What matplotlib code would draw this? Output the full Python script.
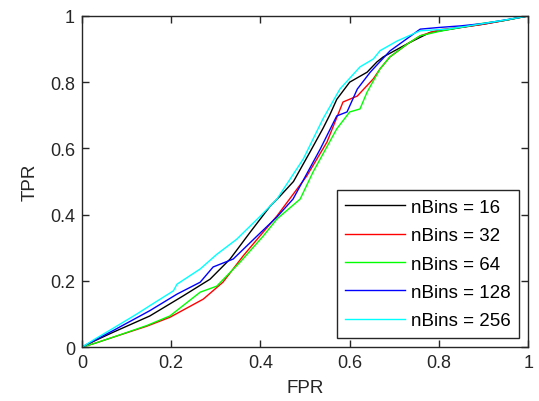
import matplotlib
matplotlib.use("Agg")
import matplotlib.pyplot as plt

# ROC curves (FPR, TPR)
fpr16 = [0, 0.03, 0.07, 0.152, 0.226, 0.287, 0.332, 0.377, 0.422, 0.444, 0.474, 0.511, 0.54, 0.555, 0.571, 0.60, 0.639, 0.661, 0.675, 0.735, 0.78, 0.85, 0.9, 0.95, 1.0]
tpr16 = [0, 0.02, 0.045, 0.094, 0.154, 0.205, 0.266, 0.347, 0.426, 0.456, 0.50, 0.589, 0.66, 0.70, 0.748, 0.80, 0.83, 0.861, 0.876, 0.92, 0.95, 0.965, 0.975, 0.987, 1.0]

fpr32 = [0, 0.03, 0.07, 0.145, 0.197, 0.272, 0.316, 0.361, 0.406, 0.437, 0.504, 0.549, 0.585, 0.617, 0.653, 0.668, 0.69, 0.729, 0.758, 0.8, 0.85, 0.9, 0.95, 1.0]
tpr32 = [0, 0.012, 0.03, 0.063, 0.09, 0.145, 0.196, 0.275, 0.347, 0.396, 0.517, 0.619, 0.74, 0.758, 0.81, 0.84, 0.876, 0.915, 0.94, 0.958, 0.966, 0.975, 0.987, 1.0]

fpr64 = [0, 0.03, 0.07, 0.145, 0.197, 0.265, 0.302, 0.354, 0.406, 0.437, 0.489, 0.518, 0.571, 0.60, 0.623, 0.639, 0.668, 0.69, 0.729, 0.758, 0.8, 0.89, 0.95, 1.0]
tpr64 = [0, 0.012, 0.03, 0.065, 0.094, 0.166, 0.184, 0.256, 0.335, 0.387, 0.447, 0.529, 0.659, 0.71, 0.719, 0.77, 0.84, 0.876, 0.915, 0.94, 0.953, 0.976, 0.987, 1.0]

fpr128 = [0, 0.03, 0.07, 0.152, 0.213, 0.265, 0.294, 0.339, 0.392, 0.437, 0.473, 0.534, 0.571, 0.594, 0.617, 0.646, 0.69, 0.758, 0.8, 0.85, 0.9, 0.95, 1.0]
tpr128 = [0, 0.022, 0.05, 0.11, 0.16, 0.196, 0.242, 0.266, 0.335, 0.393, 0.447, 0.598, 0.698, 0.71, 0.779, 0.83, 0.894, 0.96, 0.965, 0.97, 0.977, 0.988, 1.0]

fpr256 = [0, 0.03, 0.07, 0.123, 0.152, 0.205, 0.213, 0.265, 0.302, 0.347, 0.40, 0.437, 0.496, 0.54, 0.578, 0.623, 0.653, 0.668, 0.706, 0.758, 0.818, 0.854, 0.9, 0.95, 1.0]
tpr256 = [0, 0.025, 0.057, 0.1, 0.125, 0.17, 0.19, 0.236, 0.28, 0.326, 0.396, 0.447, 0.568, 0.689, 0.779, 0.846, 0.87, 0.895, 0.924, 0.955, 0.96, 0.967, 0.977, 0.988, 1.0]

series = [(fpr16, tpr16, "#000000", "nBins = 16"),
          (fpr32, tpr32, "#ff0000", "nBins = 32"),
          (fpr64, tpr64, "#00ff00", "nBins = 64"),
          (fpr128, tpr128, "#0000ff", "nBins = 128"),
          (fpr256, tpr256, "#00ffff", "nBins = 256")]

plt.rcParams["font.family"] = ["Liberation Sans", "DejaVu Sans"]
INK = "#262626"
fig = plt.figure(figsize=(5.39, 4.02), dpi=100)
ax = fig.add_axes([0.152, 0.134, 0.828, 0.824])
for x, y, c, lab in series:
    ax.plot(x, y, color=c, lw=1.0, label=lab)

ax.set_xlim(0, 1); ax.set_ylim(0, 1)
ticks = [0, 0.2, 0.4, 0.6, 0.8, 1]
tlabs = ["0", "0.2", "0.4", "0.6", "0.8", "1"]
ax.set_xticks(ticks, tlabs); ax.set_yticks(ticks, tlabs)
ax.tick_params(direction="in", top=True, right=True, length=5, width=1, labelsize=13, colors=INK, pad=5)
for s in ax.spines.values():
    s.set_color(INK); s.set_linewidth(1.0)
ax.set_xlabel("FPR", fontsize=13.5, color=INK, labelpad=6)
ax.set_ylabel("TPR", fontsize=13.5, color=INK, labelpad=8)
leg = ax.legend(loc="lower right", fontsize=13.5, handlelength=3.2, fancybox=False, edgecolor=INK,
                framealpha=1, borderaxespad=0.5, labelspacing=0.6, handletextpad=0.3, borderpad=0.45)
leg.get_frame().set_linewidth(1.0)
fig.savefig("out.png", dpi=100)
